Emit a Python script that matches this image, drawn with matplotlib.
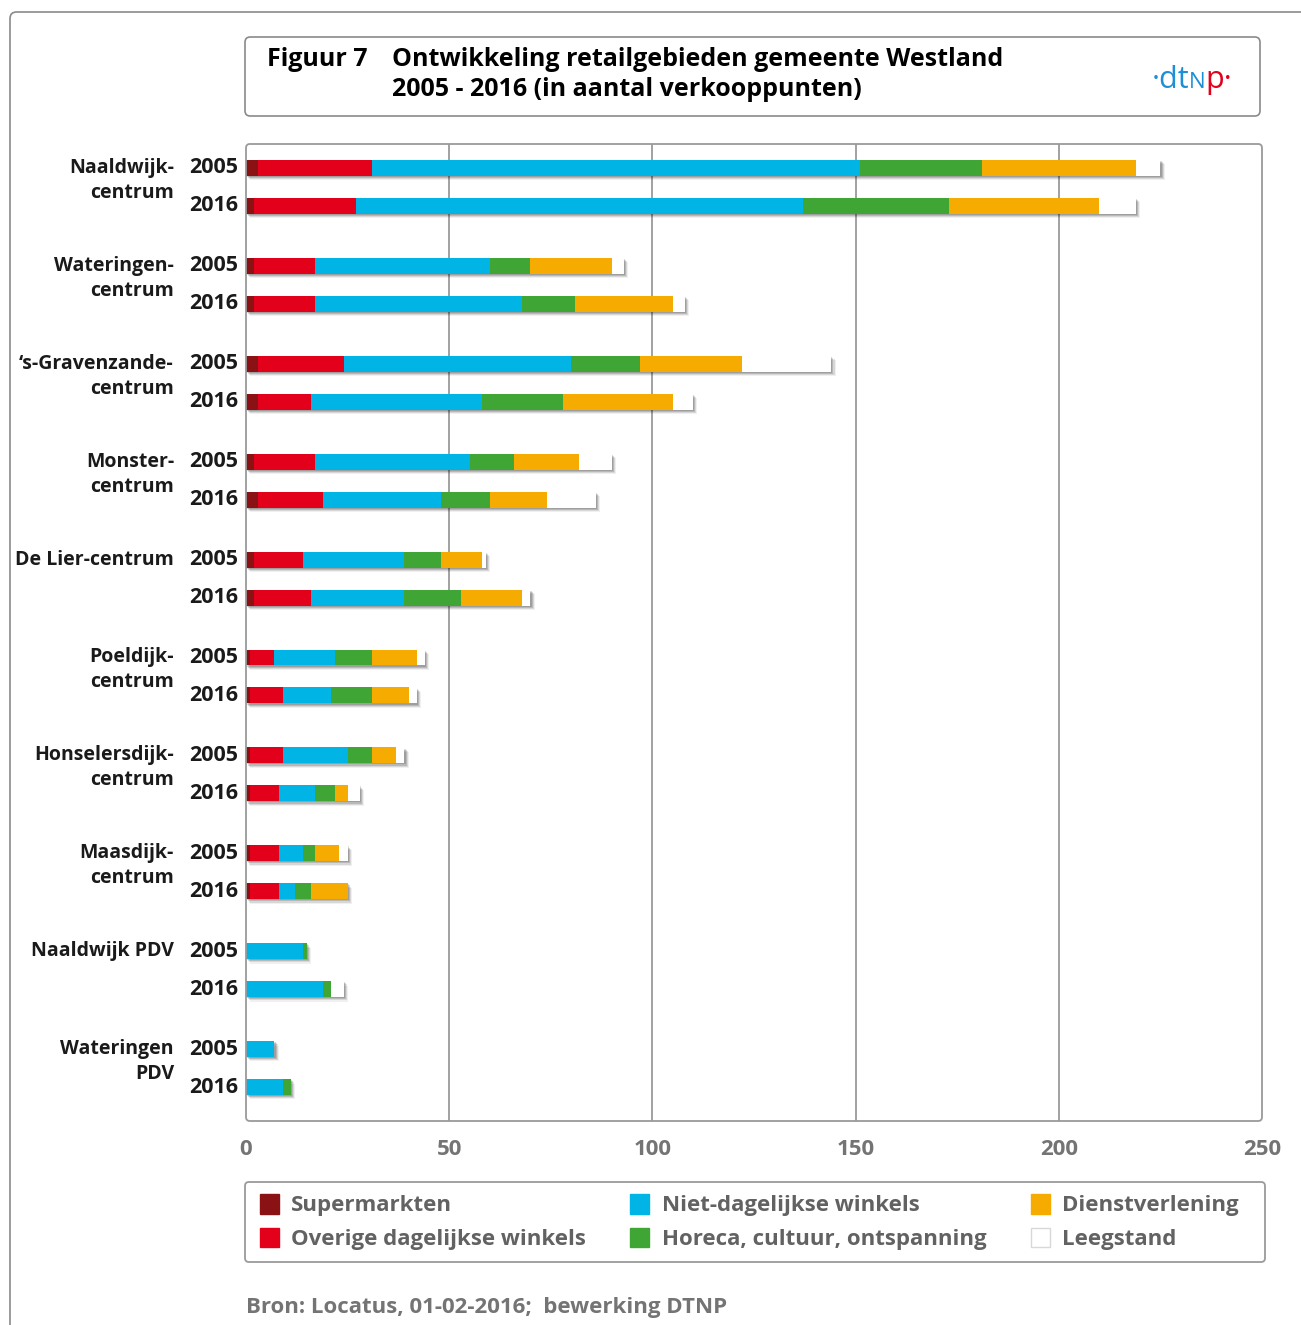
import matplotlib
matplotlib.use("Agg")
import matplotlib.pyplot as plt
import matplotlib.patheffects as pe
from matplotlib.patches import FancyBboxPatch, Patch
from matplotlib.offsetbox import TextArea, HPacker, AnnotationBbox
import numpy as np

# Data (aantal verkooppunten)
areas = ["Naaldwijk-\ncentrum", "Wateringen-\ncentrum", "\u2018s-Gravenzande-\ncentrum",
         "Monster-\ncentrum", "De Lier-centrum", "Poeldijk-\ncentrum",
         "Honselersdijk-\ncentrum", "Maasdijk-\ncentrum", "Naaldwijk PDV", "Wateringen\nPDV"]
years = ["2005", "2016"]
categories = ["Supermarkten", "Overige dagelijkse winkels", "Niet-dagelijkse winkels",
              "Horeca, cultuur, ontspanning", "Dienstverlening", "Leegstand"]
colors = ["#8B1214", "#E2001A", "#00B4E6", "#3FA535", "#F5AB00", "#FFFFFF"]

super_2005 = [3, 2, 3, 2, 2, 1, 1, 1, 0, 0]
super_2016 = [2, 2, 3, 3, 2, 1, 1, 1, 0, 0]
overig_2005 = [28, 15, 21, 15, 12, 6, 8, 7, 0, 0]
overig_2016 = [25, 15, 13, 16, 14, 8, 7, 7, 0, 0]
niet_2005 = [120, 43, 56, 38, 25, 15, 16, 6, 14, 7]
niet_2016 = [110, 51, 42, 29, 23, 12, 9, 4, 19, 9]
horeca_2005 = [30, 10, 17, 11, 9, 9, 6, 3, 1, 0]
horeca_2016 = [36, 13, 20, 12, 14, 10, 5, 4, 2, 2]
dienst_2005 = [38, 20, 25, 16, 10, 11, 6, 6, 0, 0]
dienst_2016 = [37, 24, 27, 14, 15, 9, 3, 9, 0, 0]
leeg_2005 = [6, 3, 22, 8, 1, 2, 2, 2, 0, 0]
leeg_2016 = [9, 3, 5, 12, 2, 2, 3, 0, 3, 0]

x_ticks = [0, 50, 100, 150, 200, 250]

W, H = 1301, 1325
plt.rcParams['font.family'] = ['Open Sans', 'DejaVu Sans']
fig = plt.figure(figsize=(W / 100, H / 100), dpi=100)


def fx(px):
    return px / W


def fy(py):
    return 1 - py / H


# page frame (left + top line)
fig.patches.append(FancyBboxPatch((fx(10), fy(1500)), 2, fy(12) - fy(1500),
                                  boxstyle="round,pad=0,rounding_size=0.005",
                                  transform=fig.transFigure, fc="none", ec="#8a8a8a", lw=1.2))

# title box
fig.patches.append(FancyBboxPatch((fx(245), fy(116)), fx(1260) - fx(245), fy(37) - fy(116),
                                  boxstyle="round,pad=0,rounding_size=0.004",
                                  transform=fig.transFigure, fc="white", ec="#8a8a8a", lw=1.2))
fig.text(fx(267), fy(60), "Figuur 7", fontsize=18, fontweight='bold', va='center', ha='left')
fig.text(fx(392), fy(60), "Ontwikkeling retailgebieden gemeente Westland",
         fontsize=18, fontweight='bold', va='center', ha='left')
fig.text(fx(392), fy(90), "2005 - 2016 (in aantal verkooppunten)",
         fontsize=18, fontweight='bold', va='center', ha='left')

# dtnp logo
blue, red = "#1E8FD5", "#E3001B"
logo = HPacker(children=[TextArea("\u00b7dt", textprops=dict(color=blue, fontsize=22)),
                         TextArea("N", textprops=dict(color=blue, fontsize=16)),
                         TextArea("p\u00b7", textprops=dict(color=red, fontsize=22))],
               sep=0, align="baseline", pad=0)
fig.add_artist(AnnotationBbox(logo, (fx(1192), fy(80)), xycoords='figure fraction',
                              frameon=False, box_alignment=(0.5, 0.5)))

# plot area
ax = fig.add_axes([fx(246), fy(1121), fx(1262) - fx(246), fy(144) - fy(1121)])
unit = 38.0
gap = 98.0 / unit
pos_2005 = np.arange(len(areas)) * gap
pos_2016 = pos_2005 + 1
ax.set_xlim(0, 250)
ax.set_ylim(pos_2016[-1] + 34 / unit, -24 / unit)

bar_h = 0.42
series_2005 = [super_2005, overig_2005, niet_2005, horeca_2005, dienst_2005, leeg_2005]
series_2016 = [super_2016, overig_2016, niet_2016, horeca_2016, dienst_2016, leeg_2016]
# soft drop shadow: a few stacked, faint offset copies
shadow = [pe.SimplePatchShadow(offset=(3.2, -3.2), shadow_rgbFace="#000000", alpha=0.06),
          pe.SimplePatchShadow(offset=(2.4, -2.4), shadow_rgbFace="#000000", alpha=0.10),
          pe.SimplePatchShadow(offset=(1.6, -1.6), shadow_rgbFace="#000000", alpha=0.14),
          pe.SimplePatchShadow(offset=(0.8, -0.8), shadow_rgbFace="#000000", alpha=0.14),
          pe.Normal()]

for pos, series in [(pos_2005, series_2005), (pos_2016, series_2016)]:
    vals = np.array(series, dtype=float)
    totals = vals.sum(axis=0)
    ax.barh(pos, totals, height=bar_h, color="white", linewidth=0, zorder=2, path_effects=shadow)
    left = np.zeros(len(areas))
    for v, c in zip(vals, colors):
        ax.barh(pos, v, left=left, height=bar_h, color=c, linewidth=0, zorder=3)
        left += v

for x in x_ticks[1:-1]:
    ax.axvline(x, color="#9a9a9a", lw=1.3, zorder=1)

for s in ax.spines.values():
    s.set_visible(False)
fig.patches.append(FancyBboxPatch((fx(246), fy(1121)), fx(1262) - fx(246), fy(144) - fy(1121),
                                  boxstyle="round,pad=0,rounding_size=0.003",
                                  transform=fig.transFigure, fc="none", ec="#9a9a9a", lw=1.3, zorder=5))

ax.set_xticks(x_ticks)
ax.set_xticklabels([str(t) for t in x_ticks])
ax.tick_params(axis='x', length=0, pad=13, labelsize=16, labelcolor="#747474")
for lab in ax.get_xticklabels():
    lab.set_fontweight('bold')
ax.set_yticks([])

tr = ax.get_yaxis_transform()
year_x = -8 / 1016
name_x = -72 / 1016
for i, name in enumerate(areas):
    ax.text(year_x, pos_2005[i], years[0], transform=tr, ha='right', va='center',
            fontsize=15.5, fontweight='bold', color="#1a1a1a")
    ax.text(year_x, pos_2016[i], years[1], transform=tr, ha='right', va='center',
            fontsize=15.5, fontweight='bold', color="#1a1a1a")
    for j, line in enumerate(name.split("\n")):
        ax.text(name_x, pos_2005[i] + j * 25 / unit, line, transform=tr, ha='right', va='center',
                fontsize=14, fontweight='bold', color="#1a1a1a")

# legend (frame drawn separately to match the box)
fig.patches.append(FancyBboxPatch((fx(245), fy(1262)), fx(1265) - fx(245), fy(1182) - fy(1262),
                                  boxstyle="round,pad=0,rounding_size=0.003",
                                  transform=fig.transFigure, fc="white", ec="#9a9a9a", lw=1.3))
handles = [Patch(facecolor=c, edgecolor=("#d8d8d8" if c == "#FFFFFF" else c), linewidth=1.0, label=l)
           for c, l in zip(colors, categories)]
leg = fig.legend(handles=handles, ncol=3, loc="center left",
                 bbox_to_anchor=(fx(260), fy(1222)), bbox_transform=fig.transFigure,
                 frameon=False, fontsize=16, handlelength=0.85, handleheight=1.0,
                 handletextpad=0.55, labelspacing=0.5, columnspacing=2.0,
                 borderpad=0, borderaxespad=0)
for t in leg.get_texts():
    t.set_color("#626262")
    t.set_fontweight('bold')

fig.text(fx(246), fy(1308), "Bron: Locatus, 01-02-2016;  bewerking DTNP", fontsize=16,
         fontweight='bold', color="#747474", ha='left', va='center')

fig.savefig("out.png", dpi=100)
